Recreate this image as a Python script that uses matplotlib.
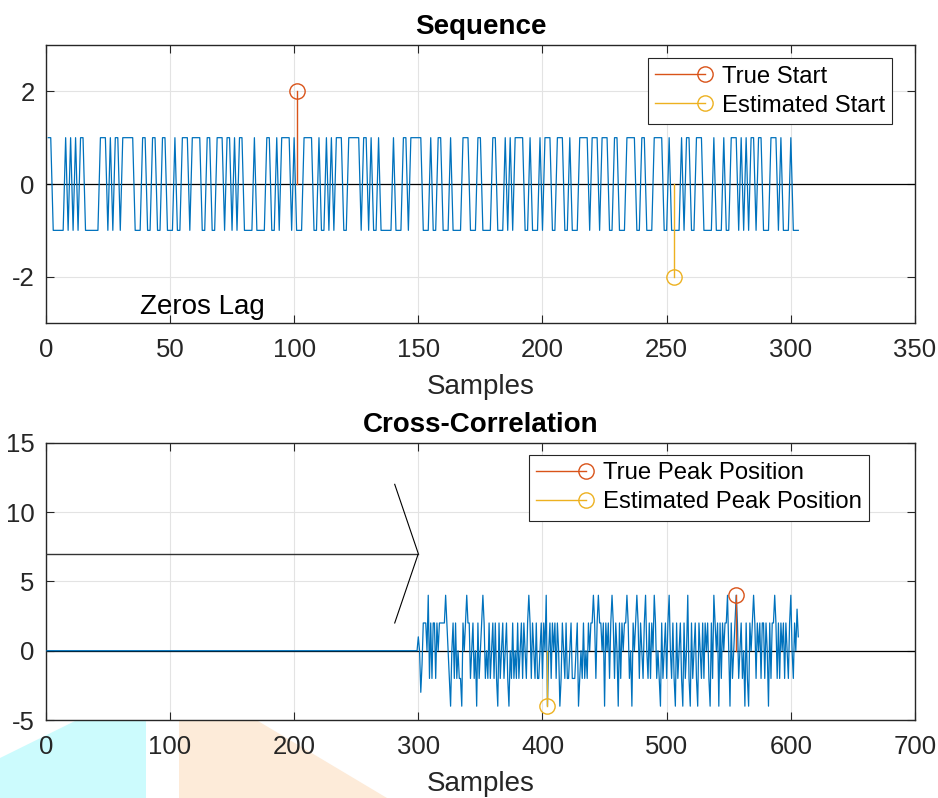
import matplotlib
matplotlib.use("Agg")
import matplotlib.pyplot as plt
from matplotlib.lines import Line2D
from matplotlib.legend_handler import HandlerLine2D
from matplotlib.patches import Polygon

plt.rcParams['font.family'] = ['Liberation Sans', 'DejaVu Sans']
plt.rcParams['axes.unicode_minus'] = False

# +/-1 sequence, one char per sample (+ = 1, - = -1)
seq_str = ("++-----+-+" "-+-++-----" "-+++-+-++-" "+++++---++" "--++--++--"
           "-+--+++-++" "++--++--++" "+-++-+-++-" "---+----++" "--+-++++-+"
           "---++++--+" "--+-+-+++-" "-+++++-++-" "+--+-----+" "---++-++++"
           "+---+--++-" "--+----+++" "---++----+" "+---+-+-++" "++--+---+-"
           "+++--+++--" "+---++++-+" "++-+++--++" "---++++--+" "+---++++--"
           "+----+-++-" "-+++----+-" "--+--+++-+" "-+-++-++--" "-+++-+---+"
           "---")
seq = [1 if c == '+' else -1 for c in seq_str]
seq_n = list(range(1, len(seq) + 1))

# cross-correlation: flat zero up to lag 299, then values from 300 on
xc_lead = [0] * 299
xc_vals = [1, 0, -3, -1, 2, 2, 2, 0, 4, -2,
           2, -2, 2, 2, -2, 2, 0, 2, 2, 2,
           2, 2, 4, 2, 0, -2, -4, 0, 2, -2,
           2, -2, 0, -2, -2, -4, 2, 0, 2, 4,
           2, 2, -2, 0, 2, -2, 0, -4, 2, -2,
           0, 2, 4, 2, -2, 0, -2, 2, -2, 0,
           2, -2, 2, -2, -4, 2, -2, 0, 2, -2,
           0, 2, -2, -4, 0, -2, 2, -2, 0, -2,
           2, -2, 0, 2, -2, 2, 0, -2, 2, 4,
           2, -2, 2, 0, -2, 2, -2, -2, 0, 2,
           -2, 2, 0, 4, -4, 0, 2, -2, 2, 0,
           2, -2, 2, 0, -4, -2, 2, 0, -2, 2,
           -2, -2, 0, 2, -2, -2, -2, 0, 2, -4,
           -2, 0, -2, 2, -2, 0, -2, 2, 0, 2,
           2, 4, 2, -2, 2, 4, 2, 2, 0, 2,
           -4, 2, 0, 2, -2, 2, 4, 2, -2, 2,
           0, -4, 2, -2, 2, 0, 2, 2, 4, 2,
           -2, 0, -4, 2, 0, 2, 4, 2, -2, 2,
           0, -2, 2, 4, 0, -2, 2, -2, 2, 0,
           4, 2, -2, 0, -2, -4, 2, -2, 0, 2,
           -2, 2, 4, 0, -2, 2, -2, -4, 2, -2,
           0, 2, -2, -4, 2, -2, 0, 4, -2, -4,
           2, -2, 0, 2, -2, -4, 2, 0, -2, 2,
           -2, 2, 0, 2, -2, -4, 2, -2, 4, 2,
           0, 2, -4, 2, -2, 2, 0, 2, 2, 4,
           0, -4, 2, -2, 0, 2, 4, 2, -2, 0,
           2, -2, 0, -4, 2, -2, -4, 2, 0, 2,
           4, 2, -2, 2, 0, 2, -2, 2, 2, -2,
           2, 0, -4, 2, -2, 2, 2, 4, 2, -2,
           2, -2, 2, 0, 2, -2, 2, 0, -2, 2,
           4, 0, -2, 2, 0, 3, 1]
xc = xc_lead + xc_vals
xc_n = list(range(1, len(xc) + 1))

true_start, true_start_val = 101, 2
est_start, est_start_val = 253, -2
true_peak, true_peak_val = 556, 4
est_peak, est_peak_val = 404, -4

arrow_x = [0, 300]
arrow_y = [7, 7]
head_x = [281, 300, 281]
head_y = [12, 7, 2]

blue = '#0072BD'
red = '#D95319'
yellow = '#EDB120'
dark = '#262626'


class StemHandler(HandlerLine2D):
    # matlab style legend icon: line with the circle at its right end
    def create_artists(self, *args, **kwargs):
        arts = super().create_artists(*args, **kwargs)
        ln = arts[0]
        ln.set_markevery([len(ln.get_xdata()) - 1])
        return arts


def style(ax):
    ax.tick_params(direction='in', length=6, width=0.8, colors=dark,
                   labelsize=18.5, top=True, right=True)
    ax.tick_params(axis='x', pad=11)
    ax.tick_params(axis='y', pad=8)
    for s in ax.spines.values():
        s.set_color(dark)
        s.set_linewidth(1.0)
    ax.grid(True, color='#e3e3e3', lw=0.8)
    ax.set_axisbelow(True)


def stem(ax, x, y, color):
    ax.plot([x, x], [0, y], color=color, lw=1.0, zorder=4)
    ax.plot([x], [y], 'o', ms=11, mfc='none', mec=color, mew=1.0, zorder=4)


def make_legend(ax, labels, anchor):
    hs = [Line2D([], [], color=c, lw=1.0, marker='o', ms=11, mfc='none', mew=1.0)
          for c in (red, yellow)]
    leg = ax.legend(hs, labels, loc='upper right', bbox_to_anchor=anchor,
                    borderaxespad=0, fontsize=17.2, fancybox=False,
                    edgecolor=dark, framealpha=1, handlelength=2.1,
                    handletextpad=0.7, borderpad=0.3, labelspacing=0.3,
                    handler_map={Line2D: StemHandler(numpoints=1)})
    leg.get_frame().set_linewidth(0.8)
    return leg


fig = plt.figure(figsize=(9.38, 7.98), dpi=100)

# stray coloured shapes at the bottom left of the screenshot
W, H = 938, 798
cyan = [(0, 758), (75, 721), (146, 721), (146, 798), (0, 798)]
peach = [(179, 721), (258, 721), (387, 798), (179, 798)]
for pts, col in [(cyan, '#ccfbfd'), (peach, '#fdebd9')]:
    fig.patches.append(Polygon([(x / W, 1 - y / H) for x, y in pts], closed=True,
                               transform=fig.transFigure, facecolor=col,
                               edgecolor='none', zorder=-1))

# top: sequence
ax1 = fig.add_axes([0.0488, 0.5952, 0.9267, 0.3484])
style(ax1)
ax1.axhline(0, color='k', lw=0.9, zorder=2)
ax1.plot(seq_n, seq, color=blue, lw=0.9, zorder=3)
stem(ax1, true_start, true_start_val, red)
stem(ax1, est_start, est_start_val, yellow)
ax1.text(38, -2.8, 'Zeros Lag', fontsize=20, color='k', va='baseline')
ax1.set_xlim(0, 350)
ax1.set_ylim(-3, 3)
ax1.set_xticks(range(0, 351, 50))
ax1.set_yticks([-2, 0, 2])
ax1.set_xlabel('Samples', fontsize=20, color=dark, labelpad=8.5)
ax1.set_title('Sequence', fontsize=20, fontweight='bold', pad=8)
make_legend(ax1, ['True Start', 'Estimated Start'], (0.974, 0.952))

# bottom: cross-correlation
ax2 = fig.add_axes([0.0488, 0.0977, 0.9267, 0.3475])
style(ax2)
ax2.axhline(0, color='k', lw=0.9, zorder=2)
ax2.plot(xc_n, xc, color=blue, lw=0.9, zorder=3)
stem(ax2, true_peak, true_peak_val, red)
stem(ax2, est_peak, est_peak_val, yellow)
ax2.plot(arrow_x, arrow_y, color='#333333', lw=1.0, zorder=3)
ax2.plot(head_x, head_y, color='k', lw=0.8, zorder=3)
ax2.set_xlim(0, 700)
ax2.set_ylim(-5, 15)
ax2.set_xticks(range(0, 701, 100))
ax2.set_yticks(range(-5, 16, 5))
ax2.set_xlabel('Samples', fontsize=20, color=dark, labelpad=8.5)
ax2.set_title('Cross-Correlation', fontsize=20, fontweight='bold', pad=8)
make_legend(ax2, ['True Peak Position', 'Estimated Peak Position'], (0.947, 0.9556))

fig.savefig('out.png', dpi=100)
